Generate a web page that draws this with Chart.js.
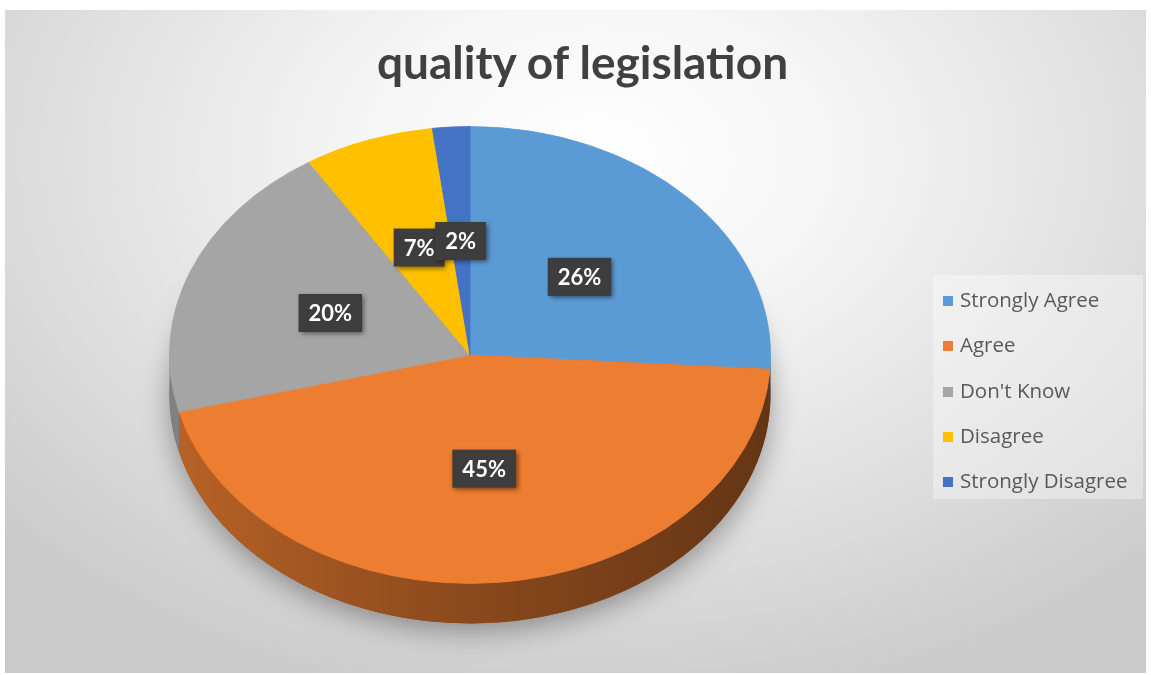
<!DOCTYPE html>
<html>
<head>
<meta charset="utf-8">
<script src="https://cdn.jsdelivr.net/npm/chart.js@4.4.1/dist/chart.umd.min.js"></script>
<style>
  html, body { margin: 0; padding: 0; background: #ffffff; }
  #frame {
    position: absolute; left: 5px; top: 10px; width: 1141px; height: 663px;
    background: radial-gradient(ellipse 70% 85% at 52% 22%, #ffffff 0%, #f6f6f6 28%, #e2e2e2 62%, #cbcbcb 100%);
  }
  #chart { position: absolute; left: 0; top: 0; }
  #title {
    position: absolute; left: 0; top: 34px; width: 1165px; text-align: center;
    font: bold 46px Lato, "Open Sans", sans-serif; color: #404040;
  }
  #legend {
    position: absolute; left: 933px; top: 275px; width: 210px; height: 224px;
    background: rgba(255,255,255,0.35);
    font: 20.5px "Open Sans", Lato, sans-serif; color: #595959;
  }
  #legend div { position: absolute; left: 10px; height: 24px; line-height: 24px; white-space: nowrap; }
  #legend span { display: inline-block; width: 10px; height: 10px; margin-right: 7px; vertical-align: 1px; }
</style>
</head>
<body>
<div id="frame"></div>
<canvas id="chart" width="1151" height="675"></canvas>
<div id="title">quality of legislation</div>
<div id="legend"></div>
<script>
const categories = ["Strongly Agree", "Agree", "Don't Know", "Disagree", "Strongly Disagree"];
const percentages = [26, 45, 20, 7, 2];
const sliceColors = ["#5b9bd5", "#ed7d31", "#a5a5a5", "#ffc000", "#4472c4"];

// pie geometry on the page
const cx = 470, cy = 355, radius = 301;
const tilt = 0.76;    // vertical squash of the top face
const depth = 40;     // thickness of the pie side
const labelAt = 0.5;  // label distance as a fraction of the radius

function shade(hex, f) {
  const n = parseInt(hex.slice(1), 16);
  const r = Math.round(((n >> 16) & 255) * f);
  const g = Math.round(((n >> 8) & 255) * f);
  const b = Math.round((n & 255) * f);
  return `rgb(${r},${g},${b})`;
}

// side walls + squashed top face + value boxes
const pie3d = {
  id: "pie3d",
  beforeDatasetsDraw(chart) {
    const ctx = chart.ctx;
    const arcs = chart.getDatasetMeta(0).data;
    const x = arcs[0].x, y = arcs[0].y, r = arcs[0].outerRadius;

    // soft shadow under the whole pie
    ctx.save();
    ctx.shadowColor = "rgba(0,0,0,0.35)";
    ctx.shadowBlur = 28;
    ctx.shadowOffsetY = 8;
    ctx.fillStyle = "#8a4a1a";
    ctx.beginPath();
    ctx.ellipse(x, y + depth, r, r * tilt, 0, 0, Math.PI * 2);
    ctx.fill();
    ctx.restore();

    // front side of every slice
    arcs.forEach((arc, i) => {
      for (let k = -1; k <= 1; k++) {
        const a0 = Math.max(arc.startAngle, 2 * Math.PI * k);
        const a1 = Math.min(arc.endAngle, Math.PI + 2 * Math.PI * k);
        if (a1 <= a0) continue;
        const grad = ctx.createLinearGradient(x - r, 0, x + r, 0);
        grad.addColorStop(0, shade(sliceColors[i], 0.78));
        grad.addColorStop(0.5, shade(sliceColors[i], 0.58));
        grad.addColorStop(1, shade(sliceColors[i], 0.42));
        ctx.fillStyle = grad;
        ctx.beginPath();
        ctx.ellipse(x, y, r, r * tilt, 0, a0, a1);
        ctx.ellipse(x, y + depth, r, r * tilt, 0, a1, a0, true);
        ctx.closePath();
        ctx.fill();
      }
    });

    ctx.save();
    ctx.translate(x, y);
    ctx.scale(1, tilt);
    ctx.translate(-x, -y);
  },
  afterDatasetsDraw(chart) {
    const ctx = chart.ctx;
    ctx.restore();
    const arcs = chart.getDatasetMeta(0).data;
    ctx.save();
    ctx.font = "bold 22px Lato, 'Open Sans', sans-serif";
    ctx.textAlign = "center";
    ctx.textBaseline = "middle";
    arcs.forEach((arc, i) => {
      const mid = (arc.startAngle + arc.endAngle) / 2;
      const lx = arc.x + Math.cos(mid) * arc.outerRadius * labelAt;
      const ly = arc.y + Math.sin(mid) * arc.outerRadius * labelAt * tilt;
      const text = percentages[i] + "%";
      const w = ctx.measureText(text).width + 20, h = 38;
      ctx.save();
      ctx.shadowColor = "rgba(0,0,0,0.5)";
      ctx.shadowBlur = 5;
      ctx.shadowOffsetX = 2;
      ctx.shadowOffsetY = 2;
      ctx.fillStyle = "#3d3d3d";
      ctx.fillRect(lx - w / 2, ly - h / 2, w, h);
      ctx.restore();
      ctx.fillStyle = "#ffffff";
      ctx.fillText(text, lx, ly + 1);
    });
    ctx.restore();
  }
};

new Chart(document.getElementById("chart"), {
  type: "pie",
  data: {
    labels: categories,
    datasets: [{
      data: percentages,
      backgroundColor: sliceColors,
      borderColor: sliceColors,
      borderWidth: 1,
      clip: false
    }]
  },
  options: {
    responsive: false,
    animation: false,
    events: [],
    layout: {
      padding: { left: cx - radius, right: 1151 - cx - radius, top: cy - radius, bottom: 675 - cy - radius }
    },
    plugins: {
      legend: { display: false },
      title: { display: false },
      tooltip: { enabled: false }
    }
  },
  plugins: [pie3d]
});

// legend list on the right
const legend = document.getElementById("legend");
categories.forEach((name, i) => {
  const row = document.createElement("div");
  row.style.top = (12 + i * 45.3) + "px";
  row.innerHTML = `<span style="background:${sliceColors[i]}"></span>${name}`;
  legend.appendChild(row);
});
</script>
</body>
</html>
